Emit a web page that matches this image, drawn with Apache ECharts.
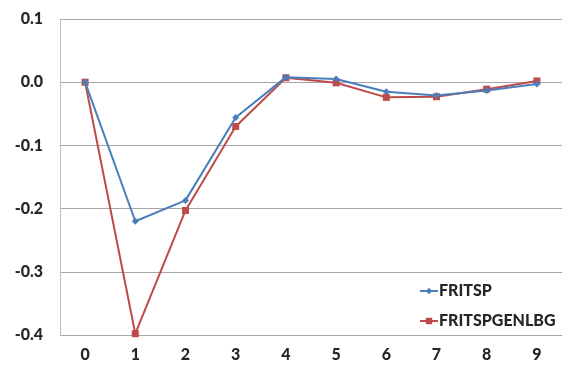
<!DOCTYPE html>
<html><head><meta charset="utf-8">
<script src="https://cdn.jsdelivr.net/npm/echarts@6/dist/echarts.min.js"></script>
<style>html,body{margin:0;padding:0;background:#fff}#c{width:574px;height:369px}</style>
</head><body><div id="c"></div>
<script>
var categories = ['0','1','2','3','4','5','6','7','8','9'];
var fritsp = [0, -0.220, -0.187, -0.056, 0.008, 0.005, -0.015, -0.021, -0.013, -0.003];
var fritspgenlbg = [0, -0.398, -0.203, -0.070, 0.007, -0.001, -0.024, -0.023, -0.011, 0.002];
var seriesNames = ['FRITSP', 'FRITSPGENLBG'];
var chart = echarts.init(document.getElementById('c'));
var font = 'Lato, "Open Sans", sans-serif';
chart.setOption({
  animation: false,
  grid: {left: 60, right: 12, top: 19, bottom: 34, containLabel: false},
  xAxis: {
    type: 'category', data: categories, boundaryGap: true,
    axisLine: {show: false}, axisTick: {show: false},
    axisLabel: {color: '#262626', fontWeight: 900, fontSize: 16, fontFamily: font, margin: 12}
  },
  yAxis: {
    type: 'value', min: -0.4, max: 0.1, interval: 0.1,
    axisLine: {show: true, lineStyle: {color: '#bfbfbf'}}, axisTick: {show: false},
    splitLine: {lineStyle: {color: '#a6a6a6', width: 1}},
    axisLabel: {color: '#262626', fontWeight: 900, fontSize: 16, fontFamily: font, margin: 17,
      formatter: function(v){ return v.toFixed(1); }}
  },
  legend: {
    orient: 'vertical', left: 414, top: 278, itemGap: 14, itemWidth: 18, itemHeight: 8,
    textStyle: {color: '#262626', fontWeight: 900, fontSize: 16, fontFamily: font, padding: [0,0,0,-4]},
    data: seriesNames
  },
  series: [
    {name: seriesNames[0], type: 'line', data: fritsp, symbol: 'diamond', symbolSize: 7,
     lineStyle: {color: '#4a7ebb', width: 2}, itemStyle: {color: '#4a7ebb'}, z: 3},
    {name: seriesNames[1], type: 'line', data: fritspgenlbg, symbol: 'rect', symbolSize: 7,
     lineStyle: {color: '#be4b48', width: 2}, itemStyle: {color: '#be4b48'}, z: 2}
  ]
});
</script></body></html>
